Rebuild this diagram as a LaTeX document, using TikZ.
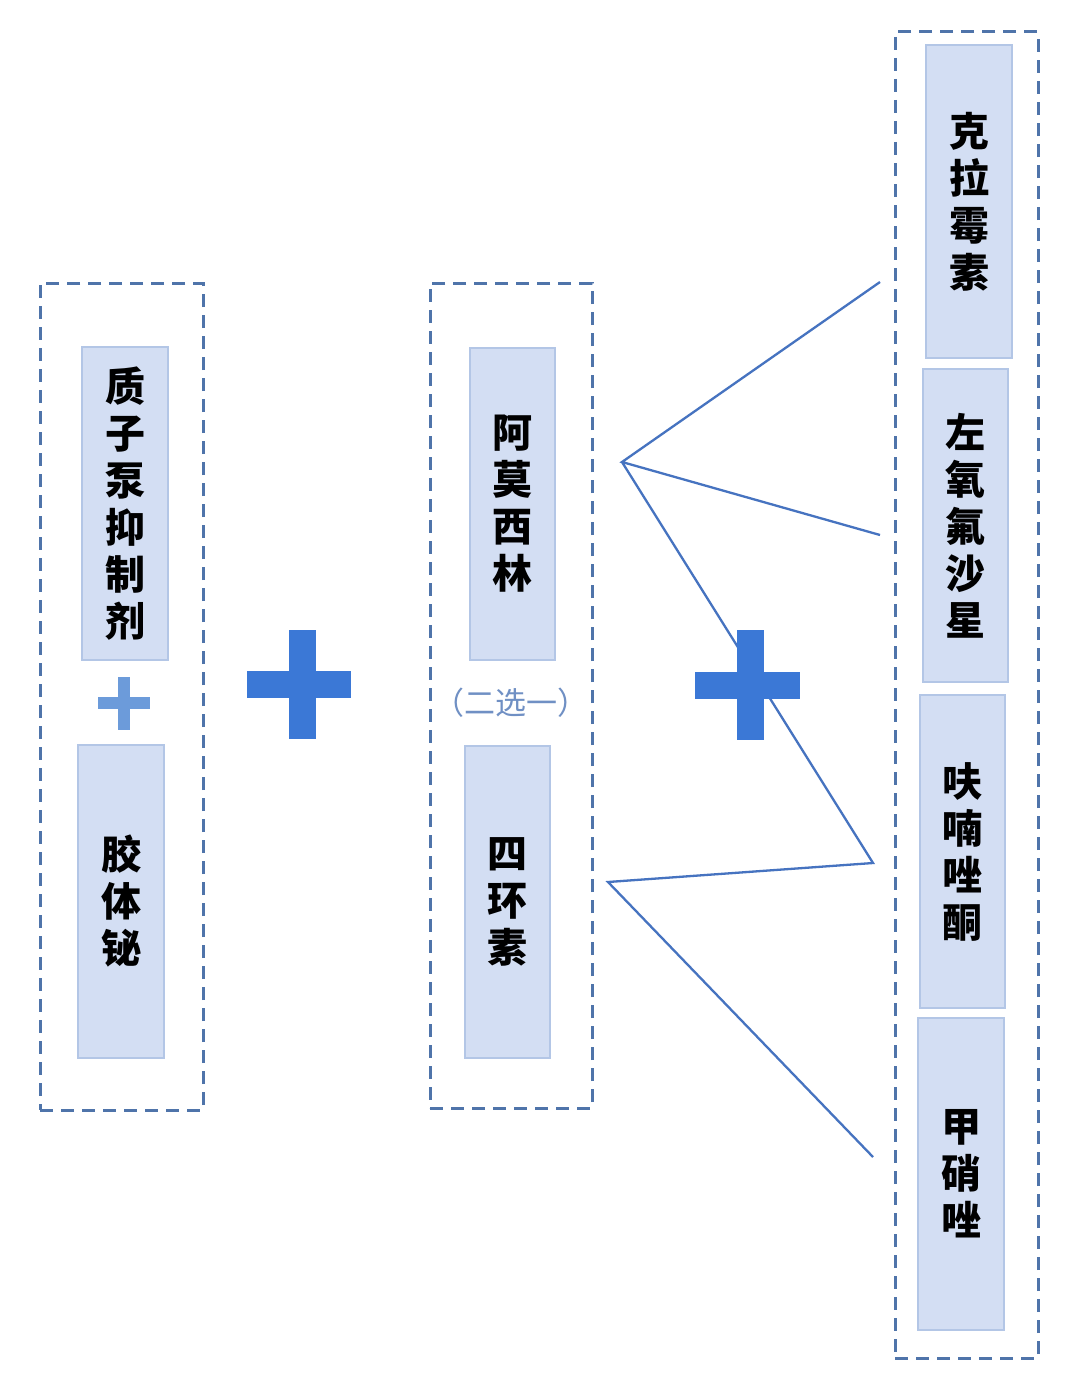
\documentclass[tikz,border=0pt]{standalone}
\usepackage{fontspec}
\newfontfamily\cjk{Noto Sans CJK SC}
\definecolor{boxfill}{HTML}{D3DEF3}
\definecolor{boxline}{HTML}{B3C6E6}
\definecolor{dashcol}{HTML}{4F74AA}
\definecolor{pluscol}{HTML}{3B78D6}
\definecolor{pluslight}{HTML}{6C9BDA}
\definecolor{linecol}{HTML}{4673C0}
\definecolor{notecol}{HTML}{7090C4}
\begin{document}
\begin{tikzpicture}[x=1pt,y=-1pt,
  drugbox/.style={draw=boxline,line width=2.5pt,fill=boxfill,rectangle,inner sep=0pt,
    align=center,font=\cjk\bfseries\fontsize{40}{47}\selectfont,text=black},
  groupbox/.style={draw=dashcol,line width=3pt,dash pattern=on 13pt off 8pt,rectangle,inner sep=0pt},
  conn/.style={draw=linecol,line width=2.3pt,line join=miter}]
\fill[white] (0,0) rectangle (1080,1394);
\useasboundingbox (0,0) rectangle (1080,1394);

% group boxes
\node[groupbox,minimum width=163pt,minimum height=827pt] (g1) at (121.5,696.5) {};
\node[groupbox,minimum width=162pt,minimum height=825pt] (g2) at (511,695.5) {};
\node[groupbox,minimum width=143pt,minimum height=1326pt] (g3) at (966.5,695) {};

% left column
\node[drugbox,minimum width=86pt,minimum height=313pt] (ppi) at (125,503.5) {质\\子\\泵\\抑\\制\\剂};
\node[drugbox,minimum width=86pt,minimum height=313pt] (bi) at (121,901.5) {胶\\体\\铋};
\fill[pluslight] (98,697) rectangle (150,709);
\fill[pluslight] (118,677) rectangle (130,730);

% middle column
\node[drugbox,minimum width=85pt,minimum height=312pt] (amx) at (512.5,504) {阿\\莫\\西\\林};
\node[drugbox,minimum width=85pt,minimum height=312pt] (tet) at (507.5,902) {四\\环\\素};
\node[font=\cjk\fontsize{31}{34}\selectfont,text=notecol] (note) at (511,703) {（二选一）};

% right column
\node[drugbox,minimum width=86pt,minimum height=313pt] (cla) at (969,201.5) {克\\拉\\霉\\素};
\node[drugbox,minimum width=85pt,minimum height=313pt] (lev) at (965.5,525.5) {左\\氧\\氟\\沙\\星};
\node[drugbox,minimum width=85pt,minimum height=313pt] (fur) at (962.5,851.5) {呋\\喃\\唑\\酮};
\node[drugbox,minimum width=86pt,minimum height=312pt] (met) at (961,1174) {甲\\硝\\唑};

% connector points
\coordinate (apex1) at (622,462);
\coordinate (t1) at (880,282);
\coordinate (t2) at (880,535);
\coordinate (t3) at (873,863);
\coordinate (apex2) at (608,882);
\coordinate (t4) at (873,1157);

\draw[conn] (t1) -- (apex1) -- (t2);
\draw[conn] (apex1) -- (t3) -- (apex2) -- (t4);

% big plus signs
\fill[pluscol] (247,671) rectangle (351,698);
\fill[pluscol] (289,630) rectangle (316,739);
\fill[pluscol] (695,672) rectangle (800,699);
\fill[pluscol] (737,630) rectangle (764,740);
\end{tikzpicture}
\end{document}
